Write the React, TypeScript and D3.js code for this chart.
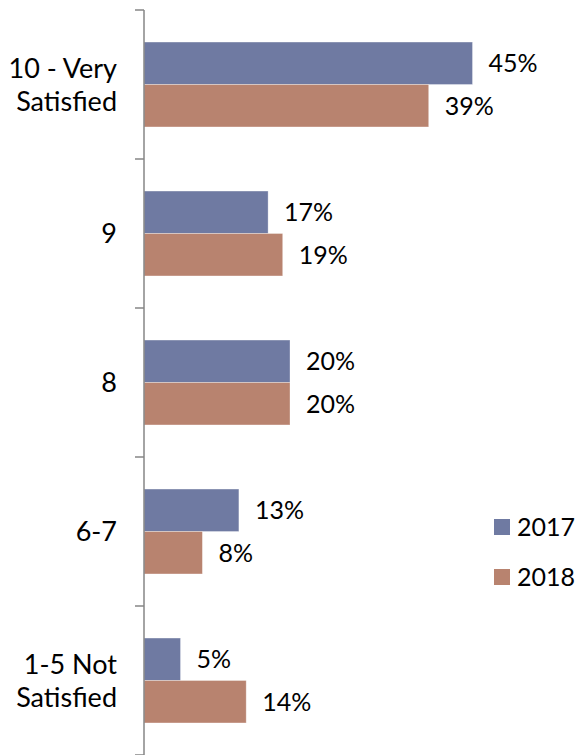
import * as d3 from "d3";
import { useEffect } from "react";

const categories = ["10 - Very Satisfied", "9", "8", "6-7", "1-5 Not Satisfied"];
const categoryLines = [["10 - Very", "Satisfied"], ["9"], ["8"], ["6-7"], ["1-5 Not", "Satisfied"]];
const seriesNames = ["2017", "2018"];
const values2017 = [45, 17, 20, 13, 5];
const values2018 = [39, 19, 20, 8, 14];
const seriesColors = ["#6f7aa2", "#b8836f"];

export default function App() {
  useEffect(() => {
    document.body.style.margin = "0";
  }, []);

  const width = 577;
  const height = 755;
  const axisX = 144;
  const fontFamily = "Lato, 'Open Sans', sans-serif";

  const y = d3
    .scaleBand()
    .domain(categories)
    .range([10, 755])
    .paddingInner(0.43)
    .paddingOuter(0.215);

  const ySeries = d3
    .scaleBand()
    .domain(seriesNames)
    .range([0, y.bandwidth()]);

  const x = d3.scaleLinear().domain([0, 60]).range([axisX, axisX + 438]);

  const seriesValues = [values2017, values2018];
  const step = y.step();
  // tick marks at the band boundaries
  const tickYs = categories.map((c) => y(c)! - (step - y.bandwidth()) / 2);
  tickYs.push(tickYs[tickYs.length - 1] + step);

  return (
    <svg width={width} height={height} style={{ display: "block", fontFamily }}>
      {/* bars */}
      {categories.map((c, i) =>
        seriesNames.map((s, j) => {
          const v = seriesValues[j][i];
          const by = y(c)! + ySeries(s)!;
          return (
            <g key={c + s}>
              <rect
                x={x(0)}
                y={by}
                width={x(v) - x(0)}
                height={ySeries.bandwidth()}
                fill={seriesColors[j]}
                stroke="#ffffff"
                strokeOpacity={0.4}
                strokeWidth={0.8}
              />
              <text
                x={x(v) + 16}
                y={by + ySeries.bandwidth() / 2}
                dy="0.36em"
                fontSize={25}
                fill="#000"
              >
                {v}%
              </text>
            </g>
          );
        })
      )}

      {/* axis */}
      <line x1={axisX} x2={axisX} y1={10} y2={755} stroke="#868686" strokeWidth={1.5} />
      {tickYs.map((t, i) => (
        <line key={i} x1={axisX - 9} x2={axisX} y1={t} y2={t} stroke="#868686" strokeWidth={1.5} />
      ))}

      {/* category labels */}
      {categories.map((c, i) => {
        const lines = categoryLines[i];
        const cy = y(c)! + y.bandwidth() / 2;
        const lh = 33;
        const start = cy - ((lines.length - 1) * lh) / 2;
        return (
          <text key={c} x={117} textAnchor="end" fontSize={27} fill="#000">
            {lines.map((l, k) => (
              <tspan key={k} x={117} y={start + k * lh} dy="0.36em">
                {l}
              </tspan>
            ))}
          </text>
        );
      })}

      {/* legend */}
      {seriesNames.map((s, j) => (
        <g key={s} transform={`translate(494, ${519 + j * 50})`}>
          <rect width={16} height={16} fill={seriesColors[j]} />
          <text x={23} y={8} dy="0.36em" fontSize={25} fill="#000">
            {s}
          </text>
        </g>
      ))}
    </svg>
  );
}
